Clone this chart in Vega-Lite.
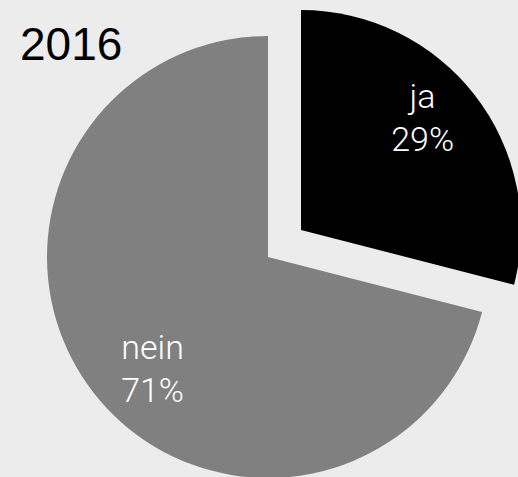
{
  "$schema": "https://vega.github.io/schema/vega-lite/v6.json",
  "width": 518,
  "height": 477,
  "padding": 0,
  "autosize": "none",
  "background": "#ececec",
  "view": {"stroke": null},
  "title": {
    "text": "2016",
    "anchor": "start",
    "frame": "group",
    "orient": "top",
    "font": "Liberation Sans",
    "fontSize": 46,
    "fontWeight": "normal",
    "color": "#000000",
    "baseline": "alphabetic",
    "dx": 20,
    "dy": 106,
    "offset": 0
  },
  "data": {
    "values": [
      {"antwort": "ja", "anteil": 29, "ord": 1},
      {"antwort": "nein", "anteil": 71, "ord": 2}
    ]
  },
  "transform": [
    {"calculate": "datum.antwort + '\\n' + datum.anteil + '%'", "as": "label"},
    {"stack": "anteil", "groupby": [], "sort": [{"field": "ord", "order": "ascending"}], "as": ["t0", "t1"]},
    {"calculate": "(datum.t0 + datum.t1) / 2", "as": "tmid"}
  ],
  "resolve": {"scale": {"theta": "shared", "color": "shared"}},
  "layer": [
    {
      "transform": [{"filter": "datum.antwort === 'nein'"}],
      "layer": [
        {
          "mark": {"type": "arc", "outerRadius": 221, "stroke": null, "xOffset": 9, "yOffset": 18.5},
          "encoding": {
            "theta": {"field": "t0", "type": "quantitative", "scale": {"domain": [0, 100]}},
            "theta2": {"field": "t1"},
            "color": {"field": "antwort", "type": "nominal", "scale": {"domain": ["ja", "nein"], "range": ["#000000", "#808080"]}, "legend": null}
          }
        },
        {
          "mark": {"type": "text", "radius": 160, "xOffset": 9, "yOffset": 18.5, "dx": 11, "dy": 4, "font": "Roboto", "fontWeight": 300, "fontSize": 34, "lineBreak": "\n", "lineHeight": 43, "color": "#ffffff", "align": "center", "baseline": "alphabetic"},
          "encoding": {
            "theta": {"field": "tmid", "type": "quantitative", "scale": {"domain": [0, 100]}},
            "text": {"field": "label", "type": "nominal"}
          }
        }
      ]
    },
    {
      "transform": [{"filter": "datum.antwort === 'ja'"}],
      "layer": [
        {
          "mark": {"type": "arc", "outerRadius": 220, "stroke": null, "xOffset": 42, "yOffset": -8.5},
          "encoding": {
            "theta": {"field": "t0", "type": "quantitative", "scale": {"domain": [0, 100]}},
            "theta2": {"field": "t1"},
            "color": {"field": "antwort", "type": "nominal", "scale": {"domain": ["ja", "nein"], "range": ["#000000", "#808080"]}, "legend": null}
          }
        },
        {
          "mark": {"type": "text", "radius": 164, "xOffset": 42, "yOffset": -8.5, "dx": -8, "dy": -21, "font": "Roboto", "fontWeight": 300, "fontSize": 34, "lineBreak": "\n", "lineHeight": 43, "color": "#ffffff", "align": "center", "baseline": "alphabetic"},
          "encoding": {
            "theta": {"field": "tmid", "type": "quantitative", "scale": {"domain": [0, 100]}},
            "text": {"field": "label", "type": "nominal"}
          }
        }
      ]
    }
  ]
}
